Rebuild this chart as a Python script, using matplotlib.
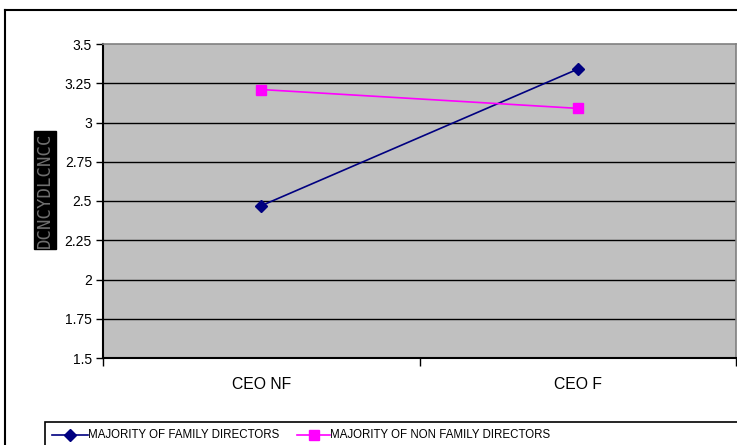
import matplotlib
matplotlib.use("Agg")
import matplotlib.pyplot as plt
from matplotlib.lines import Line2D
from matplotlib.patches import Rectangle
from matplotlib.ticker import FixedLocator

plt.rcParams['font.family'] = ['Liberation Sans', 'DejaVu Sans']

categories = ["CEO NF", "CEO F"]
family_directors = [2.47, 3.34]
non_family_directors = [3.21, 3.09]
series_names = ["MAJORITY OF FAMILY DIRECTORS", "MAJORITY OF NON FAMILY DIRECTORS"]
y_ticks = [1.5, 1.75, 2, 2.25, 2.5, 2.75, 3, 3.25, 3.5]
y_tick_labels = ["1.5", "1.75", "2", "2.25", "2.5", "2.75", "3", "3.25", "3.5"]
y_label = "DCNCYDLCNCC"

W, H = 737, 445
fig = plt.figure(figsize=(W / 100, H / 100), dpi=100)

def fx(px):
    return px / W

def fy(py):
    return 1 - py / H

# outer chart frame (runs off the bottom and right)
fig.add_artist(Line2D([fx(5), fx(5)], [fy(10), fy(460)], color='black', lw=1.5,
                      transform=fig.transFigure))
fig.add_artist(Line2D([fx(5), fx(760)], [fy(10), fy(10)], color='black', lw=1.5,
                      transform=fig.transFigure))

ax = fig.add_axes([fx(103), fy(358), fx(736) - fx(103), (358 - 44) / H])
ax.set_facecolor('#C0C0C0')

x = list(range(len(categories)))
ax.plot(x, family_directors, color='#000080', lw=1.2, marker='D', ms=6.5,
        markeredgecolor='#000080', markerfacecolor='#000080', zorder=4)
ax.plot(x, non_family_directors, color='#FF00FF', lw=1.2, marker='s', ms=7,
        markeredgecolor='#FF00FF', markerfacecolor='#FF00FF', zorder=4)

ax.set_xlim(-0.5, len(categories) - 0.5)
ax.set_ylim(1.5, 3.5)

for v in y_ticks[1:-1]:
    ax.axhline(v, color='black', lw=1.0, zorder=2)

ax.set_yticks(y_ticks)
ax.set_yticklabels(y_tick_labels, fontsize=10)
ax.tick_params(axis='y', direction='out', length=5, width=1, pad=3)

ax.set_xticks(x)
ax.set_xticklabels(categories, fontsize=11.3)
ax.tick_params(axis='x', which='major', length=0, pad=14)
ax.xaxis.set_minor_locator(FixedLocator([-0.5, 0.5, 1.5]))
ax.tick_params(axis='x', which='minor', direction='out', length=6, width=1)

for side in ('left', 'bottom'):
    ax.spines[side].set_color('black')
    ax.spines[side].set_linewidth(1.5)
for side in ('top', 'right'):
    ax.spines[side].set_color('#808080')
    ax.spines[side].set_linewidth(1.2)

fig.text(fx(45), fy(190), y_label, rotation=90, ha='center', va='center',
         fontsize=12.5, color='#707070', family='DejaVu Sans Mono',
         bbox=dict(boxstyle='square,pad=0.1', facecolor='black', edgecolor='black'))

# legend box
fig.add_artist(Rectangle((fx(45), fy(470)), fx(760) - fx(45), fy(422) - fy(470),
                         transform=fig.transFigure, facecolor='white',
                         edgecolor='black', lw=1.2))
legend_y = fy(435)
entries = [
    (52, 88, '#000080', 'D', 6, series_names[0]),
    (297, 330, '#FF00FF', 's', 6.5, series_names[1]),
]
for x0, x1, col, mk, ms, name in entries:
    fig.add_artist(Line2D([fx(x0), fx(x1)], [legend_y, legend_y], color=col, lw=1.2,
                          transform=fig.transFigure))
    fig.add_artist(Line2D([fx((x0 + x1) / 2)], [legend_y], color=col, marker=mk, ms=ms,
                          markerfacecolor=col, markeredgecolor=col,
                          transform=fig.transFigure))
    fig.text(fx(x1), legend_y, name, ha='left', va='center', fontsize=8.3)

fig.savefig("out.png", dpi=100)
